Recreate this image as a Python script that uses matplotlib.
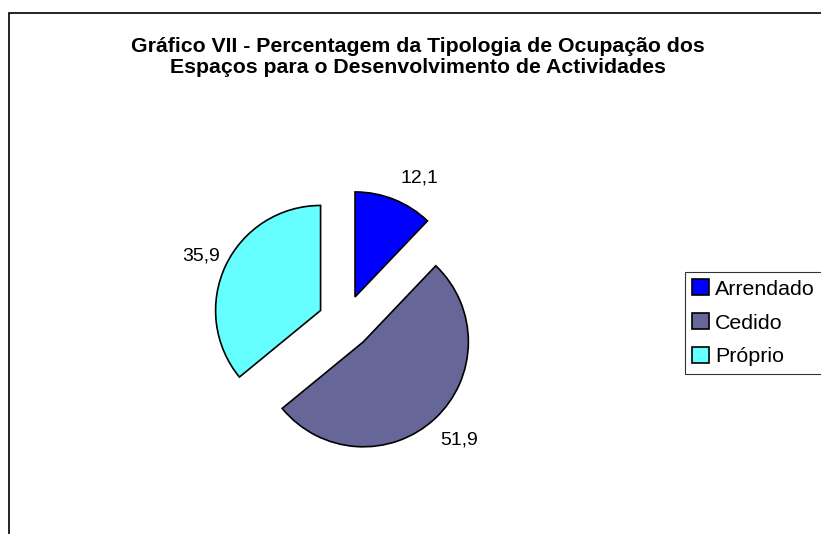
import matplotlib.pyplot as plt
import numpy as np
from matplotlib.patches import Rectangle, Patch

categories = ["Arrendado", "Cedido", "Próprio"]
values = [12.1, 51.9, 35.9]
value_labels = ["12,1", "51,9", "35,9"]
colors = ["#0000FF", "#666699", "#66FFFF"]
title = ("Gráfico VII - Percentagem da Tipologia de Ocupação dos\n"
         "Espaços para o Desenvolvimento de Actividades")

W, H = 821, 534
plt.rcParams['font.family'] = ['Liberation Sans', 'DejaVu Sans']

fig = plt.figure(figsize=(W / 100, H / 100), dpi=100)
ax = fig.add_axes([0, 0, 1, 1])
ax.axis('off')

# pie drawn in pixel-like data units
cx, cy, r = 345, H - 322, 105
expl = 27
wedges, _ = ax.pie(values, colors=colors, startangle=90, counterclock=False,
                   center=(cx, cy), radius=r, explode=[expl] * len(values),
                   wedgeprops=dict(edgecolor="black", linewidth=1.2))
ax.set_xlim(0, W)
ax.set_ylim(0, H)
ax.set_aspect('equal')

# value labels outside each wedge (Excel-like placement)
label_dist = [1.29, 1.31, 1.25]
label_shift = [-6.8, 1.5, 0.7]
for w, lab, d, s in zip(wedges, value_labels, label_dist, label_shift):
    mid = np.deg2rad((w.theta1 + w.theta2) / 2)
    ang = mid + np.deg2rad(s)
    x0, y0 = w.center
    ax.text(x0 + d * r * np.cos(ang), y0 + d * r * np.sin(ang), lab,
            ha="center", va="center", fontsize=14)

fig.text(418 / W, 1 - 57 / H, title, ha="center", va="center",
         fontsize=15.3, fontweight="bold", linespacing=1.13)

handles = [Patch(facecolor=c, edgecolor="black", linewidth=1.2) for c in colors]
leg = fig.legend(handles, categories, loc="upper left",
                 bbox_to_anchor=(685 / W, 1 - 272 / H), fontsize=15.4,
                 frameon=True, fancybox=False, handlelength=0.75,
                 handleheight=0.75, handletextpad=0.3, labelspacing=0.68,
                 borderpad=0.35, borderaxespad=0)
leg.get_frame().set_edgecolor("black")
leg.get_frame().set_linewidth(0.8)

fig.patches.append(Rectangle((9 / W, -0.1), 1.2, 1.1 - 13 / H,
                             transform=fig.transFigure, fill=False,
                             edgecolor="black", linewidth=1.2))

fig.savefig("out.png", dpi=100)
